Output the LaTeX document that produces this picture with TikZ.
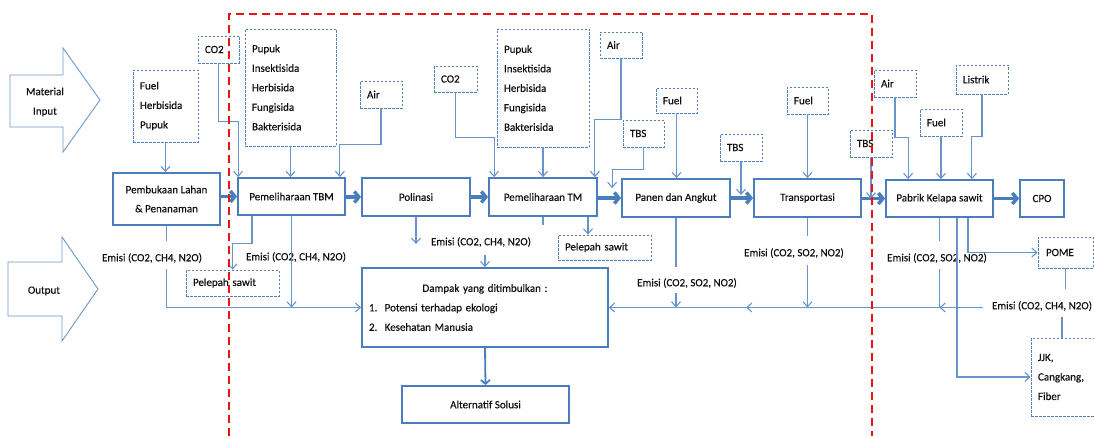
\documentclass[tikz,border=0pt]{standalone}
\usepackage{fontspec}
\setmainfont{Carlito}[FakeBold=0.25]
\usetikzlibrary{arrows.meta,calc}
\definecolor{boxblue}{RGB}{74,126,187}
\definecolor{lineblue}{RGB}{105,148,202}
\definecolor{dashblue}{RGB}{79,129,189}
\definecolor{redline}{RGB}{235,20,20}
\definecolor{txt}{RGB}{15,15,15}
\begin{document}
\begin{tikzpicture}[x=1pt,y=-1pt, font=\fontsize{11}{19.5}\selectfont, text=txt,
  mainbox/.style={draw=boxblue, line width=1.8pt, fill=white, inner sep=0pt, align=center},
  inbox/.style={draw=dashblue, line width=0.8pt, dash pattern=on 2.5pt off 1.5pt, fill=white, inner xsep=7pt, inner ysep=0pt, align=left},
  lbl/.style={inner sep=0pt},
  ln/.style={draw=lineblue, line width=1.1pt},
  la/.style={ln, -{Straight Barb[length=5pt,width=9pt]}},
  bigarrow/.style={draw=boxblue, line width=3.5pt, -{Straight Barb[length=4.5pt,width=11pt]}},
  medarrow/.style={draw=boxblue, line width=1.8pt, -{Straight Barb[length=4pt,width=9pt]}},
  fatshape/.style={draw=boxblue!80, line width=0.9pt, fill=white},
  redbox/.style={draw=redline, line width=2.2pt, dash pattern=on 8pt off 5pt}
]
\useasboundingbox (0,0) rectangle (1094,436);
\clip (0,0) rectangle (1094,436);

% big side arrows
\draw[fatshape] (10,75) -- (63,75) -- (63,48) -- (100,100) -- (63,152) -- (63,127) -- (10,127) -- cycle;
\node[lbl, align=center] (matin) at (45,102) {Material\\Input};
\draw[fatshape] (8,262) -- (62,262) -- (62,237) -- (98,289) -- (62,341) -- (62,316) -- (8,316) -- cycle;
\node[lbl] (outp) at (44,291) {Output};

% main boxes
\node[mainbox, minimum width=107pt, minimum height=52pt, font=\fontsize{11}{19}\selectfont] (pem) at (166.5,199) {Pembukaan Lahan\\\& Penanaman};
\node[mainbox, minimum width=107pt, minimum height=37pt] (tbm) at (291.5,196.5) {Pemeliharaan TBM};
\node[mainbox, minimum width=108pt, minimum height=38pt] (pol) at (416,197) {Polinasi};
\node[mainbox, minimum width=108pt, minimum height=38pt] (tm) at (543,197) {Pemeliharaan TM};
\node[mainbox, minimum width=108pt, minimum height=38pt] (pan) at (676,198) {Panen dan Angkut};
\node[mainbox, minimum width=107pt, minimum height=38pt] (tra) at (807.5,198) {Transportasi};
\node[mainbox, minimum width=107pt, minimum height=37pt] (pab) at (939.5,198.5) {Pabrik Kelapa sawit};
\node[mainbox, minimum width=44pt, minimum height=37pt] (cpo) at (1042,198.5) {CPO};
\node[mainbox, minimum width=246pt, minimum height=79pt, text width=232pt, inner xsep=7pt, align=left] (dam) at (485,307.5)
  {\makebox[\linewidth]{Dampak yang ditimbulkan :}\\1.~~Potensi terhadap ekologi\\2.~~Kesehatan Manusia};
\node[mainbox, minimum width=167pt, minimum height=37pt] (alt) at (485.5,404.5) {Alternatif Solusi};

% dashed input boxes
\node[inbox, text width=51pt, minimum height=72pt] (fuel1) at (165.5,106) {Fuel\\Herbisida\\Pupuk};
\node[inbox, text width=27pt, minimum height=27pt] (co2a) at (218.5,49.5) {CO2};
\node[inbox, text width=77pt, minimum height=117pt] (pupa) at (290.5,87.5) {Pupuk\\Insektisida\\Herbisida\\Fungisida\\Bakterisida};
\node[inbox, text width=28pt, minimum height=27pt] (aira) at (381,94.5) {Air};
\node[inbox, text width=29pt, minimum height=26pt] (co2b) at (455.5,79) {CO2};
\node[inbox, text width=78pt, minimum height=118pt] (pupb) at (543,88) {Pupuk\\Insektisida\\Herbisida\\Fungisida\\Bakterisida};
\node[inbox, text width=28pt, minimum height=26pt] (airb) at (621,45) {Air};
\node[inbox, text width=27pt, minimum height=27pt] (tbsa) at (643.5,133.5) {TBS};
\node[inbox, text width=27pt, minimum height=25pt] (fuela) at (676.5,100.5) {Fuel};
\node[inbox, text width=28pt, minimum height=27pt] (tbsb) at (741,147.5) {TBS};
\node[inbox, text width=27pt, minimum height=27pt] (fuelb) at (807.5,100.5) {Fuel};
\node[inbox, text width=28pt, minimum height=27pt] (tbsc) at (871,143.5) {TBS};
\node[inbox, text width=28pt, minimum height=27pt] (airc) at (895,83.5) {Air};
\node[inbox, text width=28pt, minimum height=27pt] (fuelc) at (941,122.5) {Fuel};
\node[inbox, text width=38pt, minimum height=29pt] (listrik) at (982,79.5) {Listrik};

% dashed output boxes
\node[inbox, text width=79pt, minimum height=26pt] (pela) at (232.5,283) {Pelepah sawit};
\node[inbox, text width=79pt, minimum height=25pt] (pelb) at (604.5,247.5) {Pelepah sawit};
\node[inbox, text width=39pt, minimum height=31pt, inner xsep=8pt] (pome) at (1065.5,252.5) {POME};
\node[inbox, text width=65pt, minimum height=78pt] (jjk) at (1070.5,377) {JJK,\\Cangkang,\\Fiber};

% emission labels
\node[lbl] (em1) at (152,258) {Emisi (CO2, CH4, N2O)};
\node[lbl] (em2) at (296,257) {Emisi (CO2, CH4, N2O)};
\node[lbl] (em3) at (481,242) {Emisi (CO2, CH4, N2O)};
\node[lbl] (em4) at (687,283) {Emisi (CO2, SO2, NO2)};
\node[lbl] (em5) at (794,253) {Emisi (CO2, SO2, NO2)};
\node[lbl] (em6) at (937,258) {Emisi (CO2, SO2, NO2)};
\node[lbl] (em7) at (1042,306) {Emisi (CO2, CH4, N2O)};

% main flow
\draw[bigarrow] (tbm.west -| pem.east) -- (tbm.west);
\draw[bigarrow] (pol.west -| tbm.east) -- (pol.west);
\draw[bigarrow] (tm.west -| pol.east) -- (tm.west);
\draw[bigarrow] (pan.west -| tm.east) -- (pan.west);
\draw[bigarrow] (tra.west -| pan.east) -- (tra.west);
\draw[bigarrow] (pab.west -| tra.east) -- (pab.west);
\draw[bigarrow] (cpo.west -| pab.east) -- (cpo.west);
\draw[medarrow] (dam.south) -- (alt.north);

% inputs
\draw[la] (fuel1.south) -- (fuel1.south |- pem.north);
\draw[la] (co2a.south) -- ++(0,58) -| ([xshift=1pt]tbm.north west);
\draw[la] (pupa.south) -- (pupa.south |- tbm.north);
\draw[la] (aira.south) -- ++(0,36) -| ([xshift=-6pt]tbm.north east);
\draw[la] (co2b.south) -- ++(0,45) -| ([xshift=6pt]tm.north west);
\draw[la] (pupb.south) -- (pupb.south |- tm.north);
\draw[la] (airb.south) -- ++(0,61) -| ([xshift=-3pt]tm.north east);
\draw[la] (tbsa.south) -- ++(0,22) -| ([xshift=-9pt,yshift=10pt]pan.west);
\draw[la] (fuela.south) -- (fuela.south |- pan.north);
\draw[la] (tbsb.south) -- ([yshift=3pt]tbsb.south |- tra.west);
\draw[la] (fuelb.south) -- (fuelb.south |- tra.north);
\draw[la] (tbsc.south) -- (tbsc.south |- pab.west);
\draw[la] (airc.south) -- ++(0,40) -| ([xshift=23pt]pab.north west);
\draw[la] (fuelc.south) -- (fuelc.south |- pab.north);
\draw[la] (listrik.south) -- ++(0,42) -| ([xshift=-22pt]pab.north east);

% outputs
\draw[ln] (pem.south) -- ([yshift=17pt]em1.center -| pem.south);
\draw[la] ([yshift=-11pt]em1.center -| pem.south) |- (dam.west);
\draw[la] ([xshift=-39.5pt]tbm.south) -- ++(0,28) -| (pela.north);
\draw[la] (tbm.south) -- (tbm.south |- dam.west);
\draw[la] (pol.south) -- ++(0,27);
\draw[la] ([yshift=-13pt]em3.center -| dam.north) -- (dam.north);
\draw[ln] (tm.south) -- ++(0,8);
\draw[la] ([xshift=45pt]tm.south) -- ([xshift=45pt]tm.south |- pelb.north);
\draw[ln] (pan.south) -- ++(0,49);
\draw[la] ([yshift=-10pt]em4.center -| pan.south) -- (pan.south |- dam.west);
\draw[ln] (tra.south) -- ++(0,18);
\draw[la] ([yshift=-12pt]em5.center -| tra.south) -- (tra.south |- dam.west);
\draw[ln] (pab.south) -- ++(0,23);
\draw[ln] ([yshift=-11pt]em6.center -| pab.south) -- (pab.south |- dam.west);
\draw[la] ([xshift=-59pt]em7.center |- dam.west) -- (pab.south |- dam.west);
\draw[la] (pab.south |- dam.west) -- ([xshift=-7pt]tra.west |- dam.west);
\draw[la] ([xshift=-7pt]tra.west |- dam.west) -- (dam.east);
\draw[la] ([xshift=17.5pt]pab.south) |- (jjk.west);
\draw[la] ([xshift=28.5pt]pab.south) |- (pome.west);
\draw[ln] (pome.south) -- ++(0,21);
\draw[ln] ([shift={(20pt,-11pt)}]em7.center) -- ([xshift=20pt]em7.center |- jjk.north);

% red dashed frame
\draw[redbox] (229,436) -- (229,14) -- (872,14) -- (872,436);
\end{tikzpicture}
\end{document}
